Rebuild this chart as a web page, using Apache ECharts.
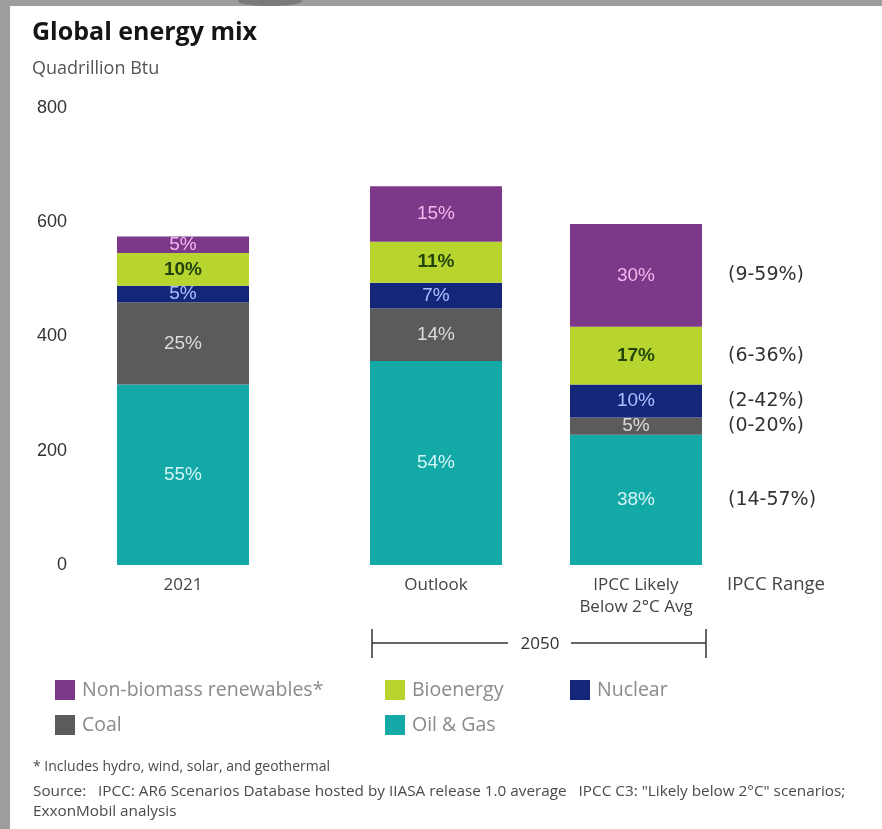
<!DOCTYPE html>
<html>
<head>
<meta charset="utf-8">
<title>Global energy mix</title>
<script src="https://cdn.jsdelivr.net/npm/echarts@6/dist/echarts.min.js"></script>
<style>
  html, body { margin: 0; padding: 0; background: #ffffff; }
  #chart { width: 882px; height: 829px; }
</style>
</head>
<body>
<div id="chart"></div>
<script>
// Columns: 2021, 2050 Outlook, 2050 IPCC likely-below-2°C average (quadrillion Btu)
const categories2021 = ['2021'];
const categories2050 = ['Outlook', 'IPCC Likely\nBelow 2°C Avg'];
const yTicks = [0, 200, 400, 600, 800];

const seriesNames = ['Oil & Gas', 'Coal', 'Nuclear', 'Bioenergy', 'Non-biomass renewables*'];
const oilGas     = [316, 357, 228];
const coal       = [144, 92, 30];
const nuclear    = [29, 45, 58];
const bioenergy  = [57, 72, 101];
const renewables = [29, 97, 180];

// IPCC scenario range for each source's share in 2050
const ipccRanges = ['(14-57%)', '(0-20%)', '(2-42%)', '(6-36%)', '(9-59%)'];

const seriesValues = [oilGas, coal, nuclear, bioenergy, renewables];
const barColors   = ['#13a9a7', '#5b5b5b', '#14267a', '#b8d52f', '#7c3889'];
const labelColors = ['#d4f5f5', '#dcdcdc', '#a9c2ff', '#23450a', '#f2b9ee'];

const totals = oilGas.map((_, i) => seriesValues.reduce((s, arr) => s + arr[i], 0));

const BAR_W = 132;
const labelFont = 'Liberation Sans, Arial, sans-serif';
const textFont = 'Open Sans, sans-serif';

function shareFormatter(colOffset) {
  return p => Math.round(p.value / totals[p.dataIndex + colOffset] * 100) + '%';
}

const series = [];
seriesNames.forEach((name, k) => {
  const vals = seriesValues[k];
  const label = {
    show: true, position: 'inside', fontSize: 19, fontFamily: labelFont,
    color: labelColors[k], fontWeight: k === 3 ? 'bold' : 'normal'
  };
  // 2021 column
  series.push({
    name, type: 'bar', stack: 'mix2021', xAxisIndex: 0, yAxisIndex: 0,
    barWidth: BAR_W, itemStyle: { color: barColors[k] },
    label: Object.assign({}, label, { formatter: shareFormatter(0) }),
    data: [vals[0]]
  });
  // 2050 columns
  series.push({
    name, type: 'bar', stack: 'mix2050', xAxisIndex: 1, yAxisIndex: 1,
    barWidth: BAR_W, barGap: '-100%', itemStyle: { color: barColors[k] },
    label: Object.assign({}, label, { formatter: shareFormatter(1) }),
    data: [vals[1], vals[2]]
  });
});
// Transparent twin of the IPCC column that carries the range text on its right
seriesNames.forEach((name, k) => {
  series.push({
    name: 'range ' + name, type: 'bar', stack: 'range2050', xAxisIndex: 1, yAxisIndex: 1,
    barWidth: BAR_W, barGap: '-100%', silent: true,
    itemStyle: { color: 'rgba(0,0,0,0)' },
    label: {
      show: true, position: 'right', distance: 26, fontSize: 19,
      fontFamily: 'DejaVu Sans, sans-serif', color: '#333333',
      formatter: () => ipccRanges[k]
    },
    data: ['-', seriesValues[k][2]]
  });
});

const legendOrder = [
  { name: 'Non-biomass renewables*', left: 55, top: 680 },
  { name: 'Bioenergy', left: 385, top: 680 },
  { name: 'Nuclear', left: 570, top: 680 },
  { name: 'Coal', left: 55, top: 715 },
  { name: 'Oil & Gas', left: 385, top: 715 }
];

const yAxisBase = {
  type: 'value', min: yTicks[0], max: yTicks[yTicks.length - 1], interval: 200,
  axisLine: { show: false }, axisTick: { show: false }, splitLine: { show: false }
};
const xAxisBase = {
  type: 'category', axisLine: { show: false }, axisTick: { show: false },
  axisLabel: { margin: 9, fontSize: 17, lineHeight: 22, color: '#444444', fontFamily: textFont }
};

const chart = echarts.init(document.getElementById('chart'), null, { renderer: 'canvas' });
chart.setOption({
  backgroundColor: '#ffffff',
  animation: false,
  title: {
    text: 'Global energy mix', subtext: 'Quadrillion Btu',
    left: 32, top: 20, itemGap: 15, padding: 0,
    textStyle: { fontSize: 25, fontWeight: 'bold', color: '#151515', fontFamily: textFont },
    subtextStyle: { fontSize: 18, color: '#555555', fontFamily: textFont }
  },
  grid: [
    { left: 83, width: 200, top: 108, height: 457 },
    { left: 336, width: 400, top: 108, height: 457 }
  ],
  xAxis: [
    Object.assign({}, xAxisBase, { gridIndex: 0, data: categories2021 }),
    Object.assign({}, xAxisBase, { gridIndex: 1, data: categories2050 })
  ],
  yAxis: [
    Object.assign({}, yAxisBase, {
      gridIndex: 0,
      axisLabel: { margin: 16, fontSize: 18, color: '#333333', fontFamily: labelFont }
    }),
    Object.assign({}, yAxisBase, { gridIndex: 1, axisLabel: { show: false } })
  ],
  legend: legendOrder.map(l => ({
    data: [l.name], left: l.left, top: l.top, padding: 0,
    icon: 'rect', itemWidth: 20, itemHeight: 20, selectedMode: false,
    textStyle: { fontSize: 19.5, color: '#8a8a8a', fontFamily: textFont, padding: [0, 0, 0, 2] }
  })),
  series,
  graphic: [
    // frame edges
    { type: 'rect', shape: { x: 0, y: 0, width: 882, height: 6 }, style: { fill: '#9d9d9d' }, silent: true },
    { type: 'rect', shape: { x: 0, y: 0, width: 10, height: 829 }, style: { fill: '#9d9d9d' }, silent: true },
    { type: 'ellipse', shape: { cx: 270, cy: 1, rx: 32, ry: 5 }, style: { fill: '#7a7a7a' }, silent: true },
    // header over the range column
    { type: 'text', x: 776, y: 585, silent: true,
      style: { text: 'IPCC Range', fontSize: 18.5, fontFamily: textFont, fill: '#444444',
               align: 'center', verticalAlign: 'middle' } },
    // 2050 bracket under the two projection columns
    { type: 'line', shape: { x1: 372, y1: 643, x2: 508, y2: 643 }, style: { stroke: '#333333', lineWidth: 1.5 }, silent: true },
    { type: 'line', shape: { x1: 571, y1: 643, x2: 706, y2: 643 }, style: { stroke: '#333333', lineWidth: 1.5 }, silent: true },
    { type: 'line', shape: { x1: 372, y1: 629, x2: 372, y2: 658 }, style: { stroke: '#333333', lineWidth: 1.5 }, silent: true },
    { type: 'line', shape: { x1: 706, y1: 629, x2: 706, y2: 658 }, style: { stroke: '#333333', lineWidth: 1.5 }, silent: true },
    { type: 'text', x: 540, y: 644, silent: true,
      style: { text: '2050', fontSize: 17, fontFamily: textFont, fill: '#333333',
               align: 'center', verticalAlign: 'middle' } },
    // notes
    { type: 'text', x: 33, y: 767, silent: true,
      style: { text: '* Includes hydro, wind, solar, and geothermal', fontSize: 14,
               fontFamily: textFont, fill: '#4a4a4a', verticalAlign: 'middle' } },
    { type: 'text', x: 33, y: 792, silent: true,
      style: { text: 'Source:   IPCC: AR6 Scenarios Database hosted by IIASA release 1.0 average   IPCC C3: "Likely below 2°C" scenarios;',
               fontSize: 15.3, fontFamily: textFont, fill: '#4a4a4a', verticalAlign: 'middle' } },
    { type: 'text', x: 33, y: 812, silent: true,
      style: { text: 'ExxonMobil analysis', fontSize: 15.3,
               fontFamily: textFont, fill: '#4a4a4a', verticalAlign: 'middle' } }
  ]
});
</script>
</body>
</html>
